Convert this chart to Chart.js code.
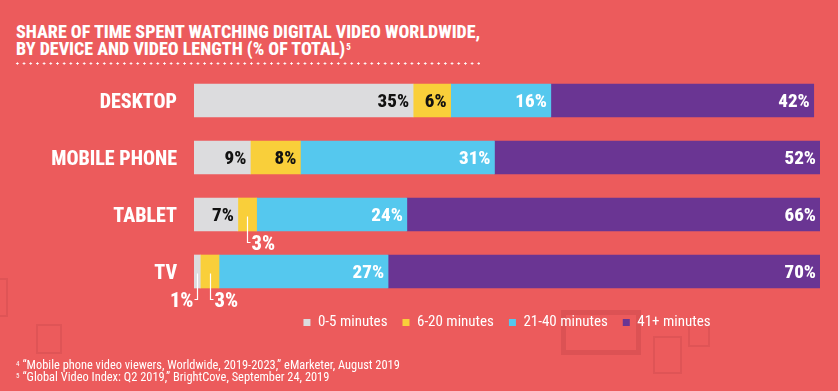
<!DOCTYPE html>
<html><head><meta charset="utf-8">
<script src="https://cdn.jsdelivr.net/npm/chart.js@4"></script>
<style>
html,body{margin:0;padding:0;background:#EC5B5C;width:838px;height:391px;overflow:hidden;font-family:"Roboto Condensed","Roboto",sans-serif;font-stretch:condensed;}
#wrap{position:relative;width:838px;height:391px;}
#c{position:absolute;left:0;top:0;}
.deco{position:absolute;box-sizing:border-box;border:2px solid #DF5456;}
#title{position:absolute;left:16px;top:22.6px;color:#fff;font-weight:800;font-size:18px;line-height:17.5px;white-space:nowrap;}
#title sup{font-size:9px;vertical-align:top;position:relative;top:-1px;margin-left:1px;}
#dots{position:absolute;left:14px;top:62px;width:466px;height:3px;background-image:radial-gradient(circle,#fff 0.9px,rgba(255,255,255,0) 1.3px);background-size:6.7px 3px;background-repeat:repeat-x;}
#notes{position:absolute;left:16px;top:358.5px;color:#fff;font-size:12.4px;line-height:12px;white-space:nowrap;}
#notes sup{font-size:7px;vertical-align:top;position:relative;top:-1px;margin-right:3px;}
</style>
</head><body>
<div id="wrap">
  <div class="deco" style="left:561px;top:310px;width:80px;height:45px;border-width:5px;border-color:#DC5254;"></div>
  <div class="deco" style="left:653px;top:336px;width:29px;height:38px;"></div>
  <div class="deco" style="left:688px;top:322px;width:22px;height:25px;"></div>
  <div class="deco" style="left:-2px;top:278px;width:10px;height:39px;"></div>
  <div class="deco" style="left:36px;top:324px;width:26px;height:30px;"></div>
  <div id="title">SHARE OF TIME SPENT WATCHING DIGITAL VIDEO WORLDWIDE,<br>BY DEVICE AND VIDEO LENGTH (% OF TOTAL)<sup>5</sup></div>
  <div id="dots"></div>
  <canvas id="c" width="838" height="391"></canvas>
  <div id="notes"><sup>4</sup>“Mobile phone video viewers, Worldwide, 2019-2023,” eMarketer, August 2019<br><sup>5</sup>“Global Video Index: Q2 2019,” BrightCove, September 24, 2019</div>
</div>
<script>
// ---- data ----
const categories = ['DESKTOP', 'MOBILE PHONE', 'TABLET', 'TV'];
const seriesNames = ['0-5 minutes', '6-20 minutes', '21-40 minutes', '41+ minutes'];
const min0to5 = [35, 9, 7, 1];
const min6to20 = [6, 8, 3, 3];
const min21to40 = [16, 31, 24, 27];
const min41plus = [42, 52, 66, 70];

// ---- style ----
const FONT = '"Roboto Condensed", Roboto, sans-serif';
const fills = ['#DCDCDE', '#F9CF3A', '#55C8EE', '#6A3593'];
const textColors = ['#111111', '#111111', '#FFFFFF', '#FFFFFF'];
// labels drawn outside the bar with a leader line: "datasetIndex-categoryIndex" -> side
const outside = { '1-2': 'right', '0-3': 'left', '1-3': 'right' };

const series = [min0to5, min6to20, min21to40, min41plus];

const labelPlugin = {
  id: 'segLabels',
  afterDatasetsDraw(chart) {
    const ctx = chart.ctx;
    const area = chart.chartArea;
    ctx.save();
    ctx.textBaseline = 'middle';
    chart.data.datasets.forEach((ds, i) => {
      const meta = chart.getDatasetMeta(i);
      meta.data.forEach((bar, j) => {
        const p = bar.getProps(['x', 'y', 'base', 'height'], true);
        const txt = ds.data[j] + '%';
        const key = i + '-' + j;
        const end = Math.min(p.x, area.right);
        if (outside[key]) {
          const cx = Math.round((p.base + end) / 2) + 0.5;
          const bottom = p.y + p.height / 2;
          const dir = outside[key] === 'right' ? 1 : -1;
          ctx.strokeStyle = '#FFFFFF';
          ctx.lineWidth = 1.2;
          ctx.beginPath();
          ctx.moveTo(cx, p.y + 2);
          ctx.lineTo(cx, bottom + 11.5);
          ctx.lineTo(cx + dir * 3, bottom + 11.5);
          ctx.stroke();
          ctx.font = '800 20.5px ' + FONT;
          ctx.fillStyle = '#FFFFFF';
          ctx.textAlign = dir > 0 ? 'left' : 'right';
          ctx.fillText(txt, cx + dir * 4, bottom + 13.5);
        } else {
          ctx.font = '800 19px ' + FONT;
          ctx.fillStyle = textColors[i];
          ctx.textAlign = 'right';
          ctx.fillText(txt, end - 4, p.y + 1.5);
        }
      });
    });
    ctx.restore();
  }
};

function draw() {
  new Chart(document.getElementById('c'), {
    type: 'bar',
    data: {
      labels: categories,
      datasets: series.map((d, i) => ({
        label: seriesNames[i],
        data: d,
        backgroundColor: fills[i],
        borderWidth: 0,
        barThickness: 33
      }))
    },
    options: {
      indexAxis: 'y',
      responsive: false,
      animation: false,
      layout: { padding: { top: 72, right: 18, bottom: 51, left: 0 } },
      scales: {
        x: { stacked: true, min: 0, max: 100, display: false },
        y: {
          stacked: true,
          grid: { display: false, drawTicks: false },
          border: { display: false },
          ticks: { color: '#FFFFFF', padding: 17, labelOffset: 2, font: { family: FONT, weight: '800', size: 20 } },
          afterFit(s) { s.width = 194; }
        }
      },
      plugins: {
        tooltip: { enabled: false },
        legend: {
          position: 'bottom',
          fullSize: false,
          labels: { color: '#FFFFFF', boxWidth: 7, boxHeight: 7, padding: 15, font: { family: FONT, size: 15 } }
        }
      }
    },
    plugins: [labelPlugin]
  });
}
if (document.fonts && document.fonts.load) {
  Promise.all([
    document.fonts.load('800 20px "Roboto Condensed"'),
    document.fonts.load('15px "Roboto Condensed"')
  ]).then(draw, draw);
} else { draw(); }
</script>
</body></html>
